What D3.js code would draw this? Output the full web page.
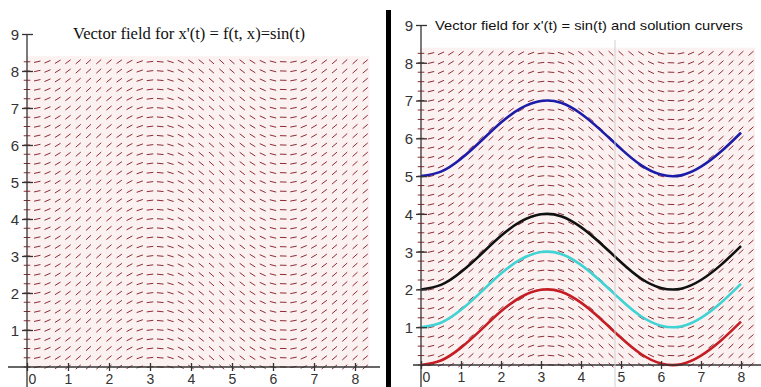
<!DOCTYPE html>
<html>
<head>
<meta charset="utf-8">
<script src="https://cdn.jsdelivr.net/npm/d3@7"></script>
<style>
  html, body { margin: 0; padding: 0; background: #fff; }
  svg { display: block; }
</style>
</head>
<body>
<svg id="chart" width="761" height="387"></svg>
<script>
// grid of the direction field (t across, x up)
const tGrid = [0, 0.25, 0.5, 0.75, 1, 1.25, 1.5, 1.75, 2, 2.25, 2.5, 2.75, 3, 3.25, 3.5, 3.75,
  4, 4.25, 4.5, 4.75, 5, 5.25, 5.5, 5.75, 6, 6.25, 6.5, 6.75, 7, 7.25, 7.5, 7.75, 8, 8.25];
const xGrid = [0, 0.25, 0.5, 0.75, 1, 1.25, 1.5, 1.75, 2, 2.25, 2.5, 2.75, 3, 3.25, 3.5, 3.75,
  4, 4.25, 4.5, 4.75, 5, 5.25, 5.5, 5.75, 6, 6.25, 6.5, 6.75, 7, 7.25, 7.5, 7.75, 8, 8.25];
// slope x'(t) of each column of the field
const slopes = [0, 0.247, 0.479, 0.682, 0.841, 0.949, 0.997, 0.984, 0.909, 0.778, 0.598, 0.382,
  0.141, -0.108, -0.351, -0.572, -0.757, -0.895, -0.978, -0.999, -0.959, -0.859, -0.706, -0.508,
  -0.279, -0.033, 0.215, 0.451, 0.657, 0.823, 0.938, 0.995, 0.989, 0.923];

// solution curves (right panel)
const curveT = [0, 0.5, 1, 1.5, 2, 2.5, 3, 3.5, 4, 4.5, 5, 5.5, 6, 6.5, 7, 7.5, 8];
const blueCurve = [5, 5.12, 5.46, 5.93, 6.42, 6.8, 6.99, 6.94, 6.65, 6.21, 5.72, 5.29, 5.04, 5.02, 5.25, 5.65, 6.15];
const blackCurve = [2, 2.12, 2.46, 2.93, 3.42, 3.8, 3.99, 3.94, 3.65, 3.21, 2.72, 2.29, 2.04, 2.02, 2.25, 2.65, 3.15];
const cyanCurve = [1, 1.12, 1.46, 1.93, 2.42, 2.8, 2.99, 2.94, 2.65, 2.21, 1.72, 1.29, 1.04, 1.02, 1.25, 1.65, 2.15];
const redCurve = [0, 0.12, 0.46, 0.93, 1.42, 1.8, 1.99, 1.94, 1.65, 1.21, 0.72, 0.29, 0.04, 0.02, 0.25, 0.65, 1.15];

const xTicks = [0, 1, 2, 3, 4, 5, 6, 7, 8];
const yTicks = [1, 2, 3, 4, 5, 6, 7, 8, 9];

const svg = d3.select('#chart');

function drawPanel(opts) {
  const x = d3.scaleLinear().domain([0, 8]).range(opts.xRange);
  const y = d3.scaleLinear().domain([0, 9]).range(opts.yRange);
  const g = svg.append('g');

  // faint tint under the field
  g.append('rect')
    .attr('x', x(0))
    .attr('y', y(8.4))
    .attr('width', x(8.35) - x(0))
    .attr('height', y(0) - y(8.4))
    .attr('fill', '#fcf1f1');

  // direction field
  const cells = [];
  tGrid.forEach((t, i) => xGrid.forEach((v) => cells.push({ t, v, s: slopes[i] })));
  const half = 3.3;
  g.append('g')
    .selectAll('line')
    .data(cells)
    .enter()
    .append('line')
    .each(function (d) {
      const dx = x(d.t + 1) - x(d.t);
      const dy = y(d.v + d.s) - y(d.v);
      const len = Math.hypot(dx, dy);
      const ux = (dx / len) * half;
      const uy = (dy / len) * half;
      d3.select(this)
        .attr('x1', x(d.t) - ux)
        .attr('y1', y(d.v) - uy)
        .attr('x2', x(d.t) + ux)
        .attr('y2', y(d.v) + uy);
    })
    .attr('stroke', '#8e2c34')
    .attr('stroke-width', 1);

  if (opts.curves) {
    const line = d3.line()
      .x((d, i) => x(curveT[i]))
      .y((d) => y(d))
      .curve(d3.curveNatural);
    opts.curves.forEach((c) => {
      g.append('path')
        .datum(c.values)
        .attr('fill', 'none')
        .attr('stroke', c.color)
        .attr('stroke-width', 2.6)
        .attr('d', line);
    });
  }

  // axes lines
  g.append('line')
    .attr('x1', opts.xAxisFrom).attr('x2', opts.xAxisTo)
    .attr('y1', y(0)).attr('y2', y(0))
    .attr('stroke', '#333').attr('stroke-width', 1.3);
  g.append('line')
    .attr('x1', x(0)).attr('x2', x(0))
    .attr('y1', y(9)).attr('y2', 387)
    .attr('stroke', '#333').attr('stroke-width', 1.3);

  const yAxis = g.append('g')
    .attr('transform', `translate(${x(0)},0)`)
    .call(d3.axisLeft(y).tickValues(yTicks).tickFormat(d3.format('d')).tickSize(5).tickPadding(3));
  yAxis.select('.domain').remove();
  yAxis.selectAll('line').attr('x1', 6).attr('stroke', '#333').attr('stroke-width', 1.3);
  yAxis.selectAll('text')
    .attr('font-family', 'Liberation Sans, Arial, sans-serif')
    .attr('font-size', 15).attr('fill', '#333').attr('dy', '0.36em');

  const xAxis = g.append('g')
    .attr('transform', `translate(0,${y(0)})`)
    .call(d3.axisBottom(x).tickValues(xTicks).tickFormat(d3.format('d')).tickSize(4).tickPadding(3));
  xAxis.select('.domain').remove();
  xAxis.selectAll('line').attr('y1', -4).attr('stroke', '#333').attr('stroke-width', 1.3);
  xAxis.selectAll('text')
    .attr('font-family', 'Liberation Sans, Arial, sans-serif')
    .attr('font-size', 14).attr('fill', '#333')
    .attr('dx', (d) => (d === 0 ? 5 : 0));

  g.append('text')
    .attr('x', opts.titleX)
    .attr('y', opts.titleY)
    .attr('font-family', opts.titleFont)
    .attr('font-size', opts.titleSize)
    .attr('fill', '#111')
    .attr('textLength', opts.titleWidth)
    .attr('lengthAdjust', 'spacingAndGlyphs')
    .text(opts.title);

  return { x, y };
}

drawPanel({
  xRange: [27, 355],
  yRange: [367, 34],
  xAxisFrom: 8,
  xAxisTo: 380,
  title: "Vector field for x'(t) = f(t, x)=sin(t)",
  titleX: 73,
  titleY: 39,
  titleFont: 'Liberation Serif, Times New Roman, serif',
  titleSize: 16,
  titleWidth: 232,
});

drawPanel({
  xRange: [421, 741],
  yRange: [365, 25],
  xAxisFrom: 413,
  xAxisTo: 761,
  title: "Vector field for x'(t) = sin(t) and solution curvers",
  titleX: 435,
  titleY: 30,
  titleFont: 'Liberation Sans, Arial, sans-serif',
  titleSize: 13,
  titleWidth: 308,
  curves: [
    { values: blueCurve, color: '#1c1ca8' },
    { values: blackCurve, color: '#111111' },
    { values: cyanCurve, color: '#3fd3d3' },
    { values: redCurve, color: '#c41e24' },
  ],
});

// faint seam line in the right image
svg.append('line')
  .attr('x1', 615).attr('x2', 615)
  .attr('y1', 40).attr('y2', 387)
  .attr('stroke', '#cfcfcf').attr('stroke-width', 1);

// thick divider between the two panels
svg.append('rect')
  .attr('x', 386).attr('y', 10)
  .attr('width', 5).attr('height', 377)
  .attr('fill', '#000');
</script>
</body>
</html>
